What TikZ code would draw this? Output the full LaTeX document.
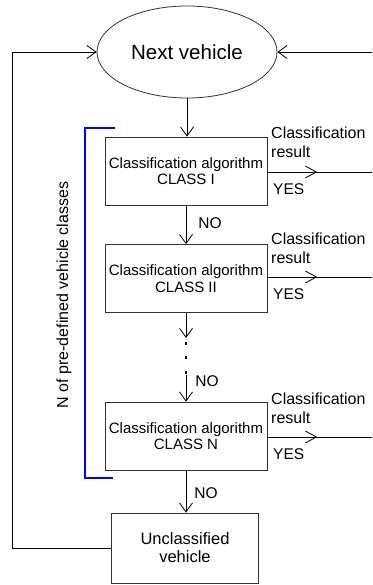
\documentclass[tikz,border=0pt]{standalone}
\usepackage{fontspec}
\setmainfont{Liberation Sans}
\usetikzlibrary{
	shapes,
	calc,
	arrows.meta,
	decorations,
	decorations.markings}

\tikzset{
  box/.style={draw=black!80,line width=0.8pt,rectangle,minimum width=162pt,minimum height=68pt,
    inner sep=0pt,align=center,font=\fontsize{15}{16.5}\selectfont},
  flow/.style={-{Straight Barb[length=9pt,width=13pt]},line width=0.8pt},
  outflow/.style={line width=0.8pt,decoration={markings,
    mark=at position 0.476 with {\arrow{Straight Barb[length=11pt,width=12pt]}}},postaction={decorate}},
  lbl/.style={inner sep=0pt,align=left,font=\fontsize{16}{19}\selectfont},
  yn/.style={inner sep=0pt,font=\fontsize{15.5}{18}\selectfont}
}

\begin{document}
\begin{tikzpicture}[x=1pt,y=-1pt,every text node part/.style={align=center}]
  \useasboundingbox (0,0) rectangle (372,585);
    % Flow chart
  \node (next) at (187,52) [draw=black!80,line width=0.8pt,ellipse,minimum width=180pt,minimum height=92pt,
    inner sep=0pt,font=\fontsize{20.5}{23}\selectfont] {Next vehicle};
  \node (cls1) at (186,171) [box] {Classification algorithm\\CLASS I};
  \node (cls2) at (186,278.5) [box] {Classification algorithm\\CLASS II};
  \node (clsN) at (186,436) [box] {Classification algorithm\\CLASS N};
  \node (uncl) at (185,548) [box,minimum width=147pt,minimum height=70pt,
    font=\fontsize{16.5}{18}\selectfont] {Unclassified\\vehicle};

  \coordinate (lft)  at (12,52);
  \coordinate (rgt)  at (372,52);
  \coordinate (edge) at (372,0);
  \coordinate (dot1) at (186,338);
  \coordinate (dot2) at (186,375);

  \draw [flow] (next.south)  to (next.south |- cls1.north);
  \draw [flow] (cls1)        to (cls2);
  \draw [flow] (cls2)        to (dot1);
  \draw [flow] (dot2)        to (clsN);
  \draw [flow] (clsN)        to (clsN |- uncl.north);
  \draw [flow] (uncl.west) -| (lft) -- (next.west);
  \draw [flow] (rgt)         to (next.east);

  \foreach \y in {343,357,372}
    \fill (184.6,\y-1.5) rectangle ++(2.8,3);

  % outputs
  \foreach \c/\a in {cls1/172,cls2/277,clsN/437}{
    \draw [outflow] (\c.east |- 0,\a) -- (edge |- 0,\a);
    \node [lbl,anchor=base west] at (271,\a-33) {Classification};
    \node [lbl,anchor=base west] at (271,\a-14) {result};
    \node [yn,anchor=base west] at (273,\a+22) {YES};
  }

  \node [yn] (no1) at (210,223) {NO};
  \node [yn] (no2) at (207,381) {NO};
  \node [yn] (no3) at (206,493) {NO};

  % bracket
  \draw [blue,line width=1.2pt] (115,128) -| (85,478) -- (113,478);
  \node (nclasses) at (64,295) [rotate=90,inner sep=0pt,font=\fontsize{16}{19}\selectfont]
    {N of pre-defined vehicle classes};

\end{tikzpicture}
\end{document}
